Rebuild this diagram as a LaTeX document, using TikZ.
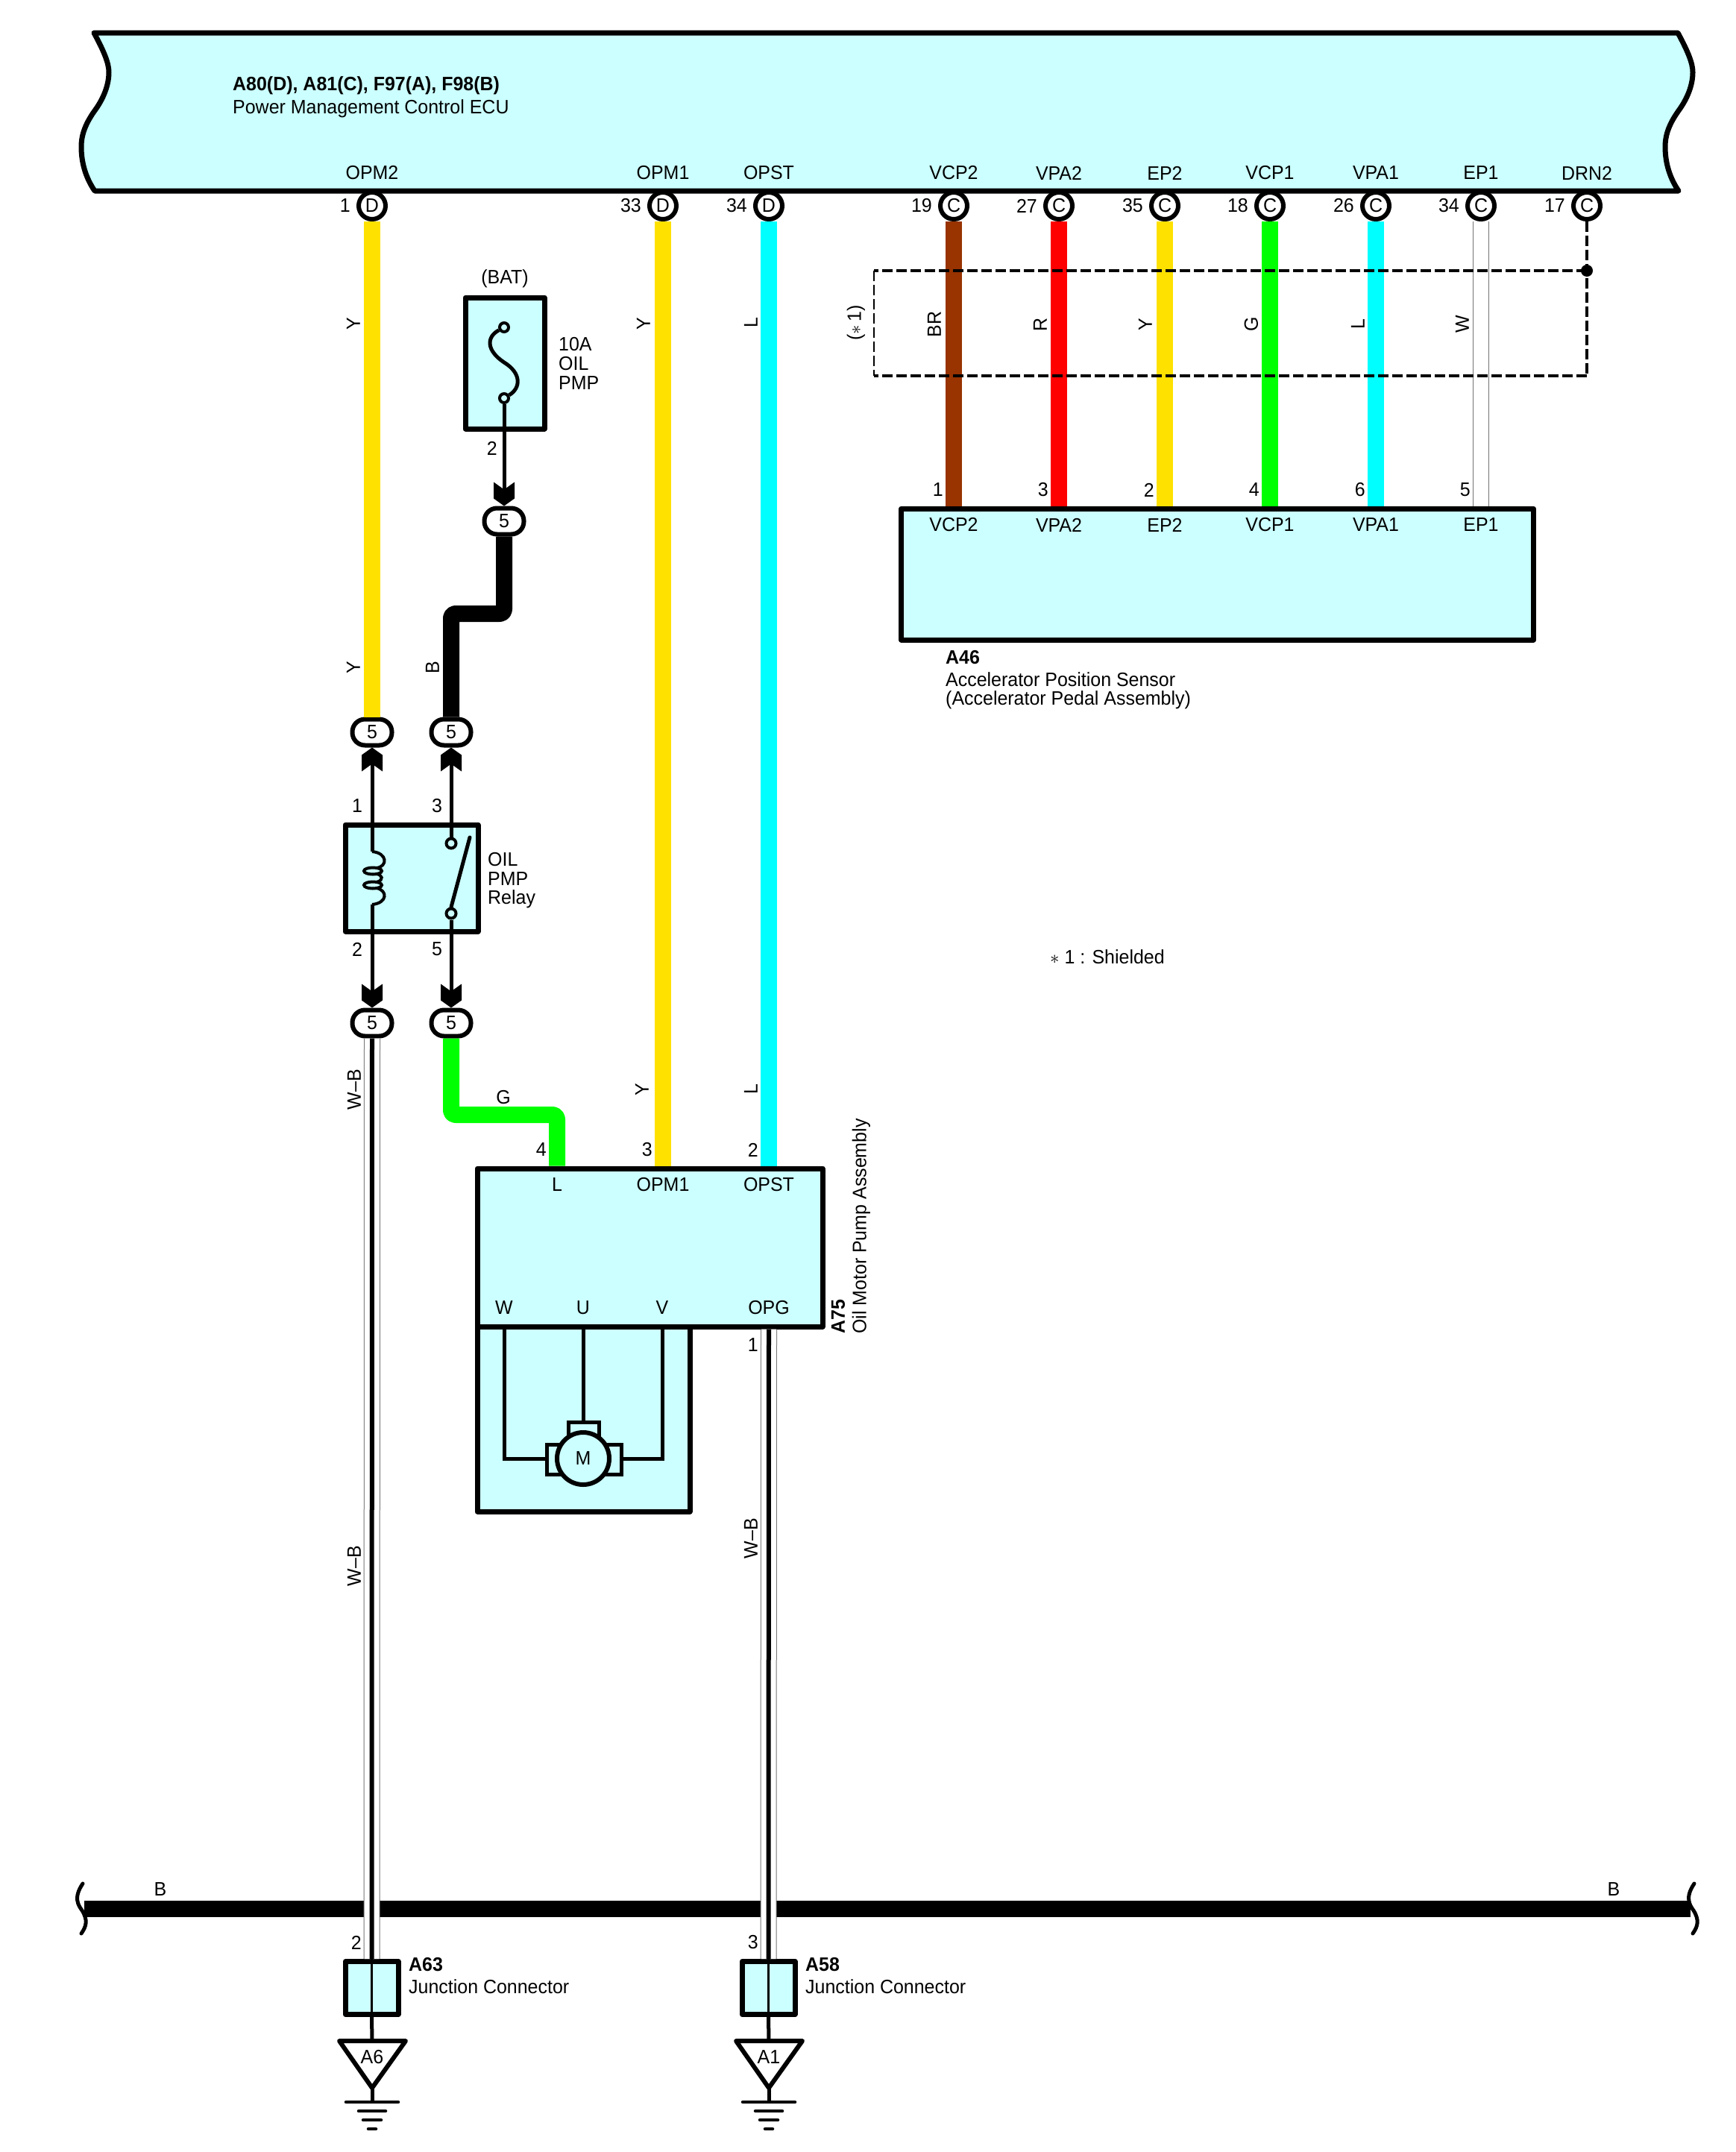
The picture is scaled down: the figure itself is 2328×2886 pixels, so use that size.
\documentclass[tikz,border=0pt]{standalone}
\usepackage{fontspec}
\setmainfont[FakeStretch=0.96]{Liberation Sans}
\usetikzlibrary{positioning}
\definecolor{bodycyan}{HTML}{CCFFFF}
\definecolor{wireY}{HTML}{FFE100}
\definecolor{wireBR}{HTML}{993300}
\definecolor{wireR}{HTML}{FF0000}
\definecolor{wireG}{HTML}{00FF00}
\definecolor{wireL}{HTML}{00FFFF}
% double chevron tip of the in-line connectors
\pgfdeclarearrow{
  name=Chev,
  setup code={
    \pgfarrowssettipend{0pt}
    \pgfarrowssetlineend{-16pt}
    \pgfarrowssetvisualbackend{-30pt}
    \pgfarrowssetbackend{-32pt}
    \pgfarrowshullpoint{0pt}{0pt}
    \pgfarrowshullpoint{-32pt}{14pt}
    \pgfarrowshullpoint{-32pt}{-14pt}
  },
  drawing code={
    \pgfpathmoveto{\pgfqpoint{0pt}{0pt}}
    \pgfpathlineto{\pgfqpoint{-10pt}{14pt}}
    \pgfpathlineto{\pgfqpoint{-32pt}{14pt}}
    \pgfpathlineto{\pgfqpoint{-22pt}{0pt}}
    \pgfpathlineto{\pgfqpoint{-32pt}{-14pt}}
    \pgfpathlineto{\pgfqpoint{-10pt}{-14pt}}
    \pgfpathclose
    \pgfusepathqfill
  }
}
\tikzset{
  font={\fontsize{26pt}{26}\selectfont},
  every node/.style={inner sep=0pt},
  body/.style={draw=black,fill=bodycyan,line width=7pt,line join=round},
  pin/.style={circle,draw=black,fill=white,line width=6pt,minimum size=36pt},
  conn/.style={rectangle,rounded corners=17pt,draw=black,fill=white,line width=6pt,minimum width=53pt,minimum height=35pt},
  wire/.style={line width=22pt,line join=round,rounded corners=6pt},
  thin wire/.style={line width=5pt,line join=round},
  wire white/.style={draw=white,line width=20pt,preaction={draw=black!55,line width=22pt}},
  wire wb/.style={draw=black,line width=6pt,preaction={draw=black!55,line width=22pt},preaction={draw=white,line width=20pt}},
  vlabel/.style={rotate=90},
  num/.style={anchor=east},
  gnd bar/.style={line width=4.5pt,line cap=round},
  shield/.style={line width=4.5pt,dash pattern=on 14pt off 5pt}
}
\begin{document}
\begin{tikzpicture}[x=1pt,y=-1pt]
    \useasboundingbox (0, 0) rectangle (2328, 2886);

    % ECU body
    \draw [body] (126, 44) -- (2250, 44) .. controls (2264, 70) and (2270, 85) .. (2270, 97)
      .. controls (2270, 115) and (2262, 133) .. (2252, 147)
      .. controls (2239, 165) and (2233, 180) .. (2233, 197)
      .. controls (2233, 220) and (2240, 240) .. (2251, 256) -- (127, 256)
      .. controls (116, 240) and (109, 220) .. (109, 197)
      .. controls (109, 180) and (115, 165) .. (128, 147)
      .. controls (138, 133) and (146, 115) .. (146, 97)
      .. controls (146, 85) and (140, 70) .. (126, 44) -- cycle;
    \node [anchor=west] (ecuTitle) at (312, 115) {\textbf{A80(D), A81(C), F97(A), F98(B)}};
    \node [anchor=west] (ecuName) at (312, 146) {Power Management Control ECU};

    % ECU terminal names
    \node (nameOPM2) at (499, 232) {OPM2};
    \node (nameOPM1) at (889, 232) {OPM1};
    \node (nameOPST) at (1031, 232) {OPST};
    \node (nameVCP2) at (1279, 232) {VCP2};
    \node (nameVPA2) at (1420, 232) {VPA2};
    \node (nameEP2) at (1562, 232) {EP2};
    \node (nameVCP1) at (1703, 232) {VCP1};
    \node (nameVPA1) at (1845, 232) {VPA1};
    \node (nameEP1) at (1986, 232) {EP1};
    \node (nameDRN2) at (2128, 232) {DRN2};

    % ECU pins
    \node [pin] (pinOPM2) at (499, 276) {D};
    \node [pin] (pinOPM1) at (889, 276) {D};
    \node [pin] (pinOPST) at (1031, 276) {D};
    \node [pin] (pinVCP2) at (1279, 276) {C};
    \node [pin] (pinVPA2) at (1420, 276) {C};
    \node [pin] (pinEP2) at (1562, 276) {C};
    \node [pin] (pinVCP1) at (1703, 276) {C};
    \node [pin] (pinVPA1) at (1845, 276) {C};
    \node [pin] (pinEP1) at (1986, 276) {C};
    \node [pin] (pinDRN2) at (2128, 276) {C};

    % ECU pin numbers
    \node [num] (numOPM2) at (470, 276) {1};
    \node [num] (numOPM1) at (860, 276) {33};
    \node [num] (numOPST) at (1002, 276) {34};
    \node [num] (numVCP2) at (1250, 276) {19};
    \node [num] (numVPA2) at (1391, 276) {27};
    \node [num] (numEP2) at (1533, 276) {35};
    \node [num] (numVCP1) at (1674, 276) {18};
    \node [num] (numVPA1) at (1816, 276) {26};
    \node [num] (numEP1) at (1957, 276) {34};
    \node [num] (numDRN2) at (2099, 276) {17};

    % Accelerator sensor
    \node [body,rectangle,minimum width=848pt,minimum height=176pt] (sensor) at (1632.5, 770) {};
    \node (senVCP2) at (1279, 704) {VCP2};
    \node (senVPA2) at (1420, 704) {VPA2};
    \node (senEP2) at (1562, 704) {EP2};
    \node (senVCP1) at (1703, 704) {VCP1};
    \node (senVPA1) at (1845, 704) {VPA1};
    \node (senEP1) at (1986, 704) {EP1};
    \node [anchor=west] (senTitle) at (1268, 882) {\textbf{A46}};
    \node [anchor=west] (senName) at (1268, 911) {Accelerator Position Sensor};
    \node [anchor=west] (senPedal) at (1268, 939) {(Accelerator Pedal Assembly)};

    % Sensor wires
    \draw [wire,wireBR] (pinVCP2.south) -- (pinVCP2.south |- sensor.north);
    \draw [wire,wireR] (pinVPA2.south) -- (pinVPA2.south |- sensor.north);
    \draw [wire,wireY] (pinEP2.south) -- (pinEP2.south |- sensor.north);
    \draw [wire,wireG] (pinVCP1.south) -- (pinVCP1.south |- sensor.north);
    \draw [wire,wireL] (pinVPA1.south) -- (pinVPA1.south |- sensor.north);
    \draw [wire white] (pinEP1.south) -- (pinEP1.south |- sensor.north);

    % Sensor wire colour codes
    \node [vlabel] (codeBR) at (1253, 435) {BR};
    \node [vlabel] (codeR) at (1395, 435) {R};
    \node [vlabel] (codeYb) at (1536, 435) {Y};
    \node [vlabel] (codeG) at (1678, 435) {G};
    \node [vlabel] (codeLb) at (1821, 435) {L};
    \node [vlabel] (codeW) at (1961, 435) {W};

    % Sensor pin numbers
    \node [num] (numSa) at (1265, 657) {1};
    \node [num] (numSb) at (1406, 657) {3};
    \node [num] (numSc) at (1548, 657) {2};
    \node [num] (numSd) at (1689, 657) {4};
    \node [num] (numSe) at (1831, 657) {6};
    \node [num] (numSf) at (1972, 657) {5};

    % Shield
    \coordinate (shieldDot) at (2128, 363);
    \coordinate (shieldEnd) at (2128, 504);
    \draw [shield] (shieldDot) -- (1172, 363);
    \draw [shield] (shieldEnd) -- (1172, 504);
    \draw [line width=2.5pt,dash pattern=on 14pt off 5pt] (1172, 363) -- (1172, 504);
    \draw [shield] (pinDRN2.south) -- (shieldEnd);
    \fill (shieldDot) circle (8);
    \node [vlabel] (codeShield) at (1148, 433) {($\ast$\,1)};
    \node [anchor=west] (noteShield) at (1408, 1283) {$\ast$ 1 : Shielded};

    % Fuse
    \node (bat) at (677, 374) {(BAT)};
    \node [body,rectangle,minimum width=106pt,minimum height=176pt] (fuse) at (677, 487) {};
    \node [circle,draw=black,fill=bodycyan,line width=4pt,minimum size=12pt] (fuseTop) at (676, 439) {};
    \node [circle,draw=black,fill=bodycyan,line width=4pt,minimum size=12pt] (fuseBot) at (676, 534) {};
    \draw [line width=5pt] (fuseTop) .. controls (652, 452) and (652, 470) .. (676, 486)
      .. controls (699, 500) and (699, 520) .. (fuseBot);
    \node [anchor=west] (fuseAmp) at (749, 462) {10A};
    \node [anchor=west] (fuseOil) at (749, 488) {OIL};
    \node [anchor=west] (fusePmp) at (749, 514) {PMP};
    \node [num] (numFuse) at (667, 601) {2};

    % In-line connectors
    \node [conn] (cFuse) at (676, 699) {5};
    \node [conn] (cYtop) at (499, 982) {5};
    \node [conn] (cBtop) at (605, 982) {5};
    \node [conn] (cWBbot) at (499, 1372) {5};
    \node [conn] (cGbot) at (605, 1372) {5};

    % Fuse wires
    \draw [thin wire,-Chev] (fuseBot.south) -- (cFuse.north);
    \draw [wire,black] (cFuse.south) -- (676, 823) -- (605, 823) -- (cBtop.north);
    \node [vlabel] (codeBl) at (580, 895) {B};

    % Relay
    \node [body,rectangle,minimum width=178pt,minimum height=143pt] (relay) at (552, 1177.5) {};
    \node [circle,draw=black,fill=bodycyan,line width=4pt,minimum size=13pt] (relayTop) at (605, 1131) {};
    \node [circle,draw=black,fill=bodycyan,line width=4pt,minimum size=13pt] (relayBot) at (605, 1225) {};
    \draw [line width=5pt,line cap=round] (relayBot.north) -- (630, 1123);
    \coordinate (coilTop) at (499, 1142);
    \coordinate (coilBot) at (499, 1213);
    \draw [line width=4pt] (coilTop) .. controls (520, 1144) and (520, 1162) .. (505, 1164)
      (505, 1172) .. controls (512, 1173) and (516, 1180) .. (505, 1183)
      (505, 1191) .. controls (520, 1194) and (520, 1211) .. (coilBot);
    \draw [line width=4pt] (500, 1168) ellipse (12 and 4.5);
    \draw [line width=4pt] (500, 1187) ellipse (12 and 4.5);
    \node [anchor=west] (relayOil) at (654, 1153) {OIL};
    \node [anchor=west] (relayPmp) at (654, 1179) {PMP};
    \node [anchor=west] (relayName) at (654, 1206) {Relay};
    \node (numRa) at (479, 1081) {1};
    \node (numRb) at (586, 1081) {3};
    \node (numRc) at (479, 1273) {2};
    \node (numRd) at (586, 1273) {5};

    % Relay wires
    \draw [thin wire,-Chev] (coilTop) -- (cYtop.south);
    \draw [thin wire,-Chev] (relayTop.north) -- (cBtop.south);
    \draw [thin wire,-Chev] (coilBot) -- (cWBbot.north);
    \draw [thin wire,-Chev] (relayBot.south) -- (cGbot.north);

    % Pump motor section
    \draw [body] (640, 1779) -- (640, 2027) -- (925, 2027) -- (925, 1779);
    \node [body,rectangle,minimum width=463pt,minimum height=212pt] (pump) at (871.5, 1673) {};
    \node (pumpL) at (747, 1589) {L};
    \node (pumpOPM1) at (889, 1589) {OPM1};
    \node (pumpOPST) at (1031, 1589) {OPST};
    \node (pumpW) at (676, 1754) {W};
    \node (pumpU) at (782, 1754) {U};
    \node (pumpV) at (888, 1754) {V};
    \node (pumpOPG) at (1031, 1754) {OPG};
    \draw [line width=5pt] (pumpU |- pump.south) -- (782, 1907);
    \draw [line width=5pt] (pumpW |- pump.south) -- (676, 1956) -- (733, 1956);
    \draw [line width=5pt] (pumpV |- pump.south) -- (888, 1956) -- (833, 1956);
    \draw [line width=5pt,fill=bodycyan] (762, 1907) rectangle (803, 1930);
    \draw [line width=5pt,fill=bodycyan] (733, 1937) rectangle (755, 1977);
    \draw [line width=5pt,fill=bodycyan] (811, 1937) rectangle (833, 1977);
    \node [circle,draw=black,fill=bodycyan,line width=6pt,minimum size=70pt] (motor) at (782, 1956) {M};
    \node [num] (numPa) at (733, 1542) {4};
    \node [num] (numPb) at (875, 1542) {3};
    \node [num] (numPc) at (1017, 1542) {2};
    \node [num] (numPd) at (1017, 1804) {1};
    \node [rotate=90,anchor=west] (pumpTitle) at (1124, 1789) {\textbf{A75}};
    \node [rotate=90,anchor=west] (pumpName) at (1155, 1789) {Oil Motor Pump Assembly};

    % Long wires
    \draw [wire,wireY] (pinOPM2.south) -- (cYtop.north);
    \draw [wire,wireY] (pinOPM1.south) -- (pinOPM1.south |- pump.north);
    \draw [wire,wireL] (pinOPST.south) -- (pinOPST.south |- pump.north);
    \draw [wire,wireG] (cGbot.south) -- (605, 1495) -- (747, 1495) -- (pumpL |- pump.north);
    \node [vlabel] (codeYa) at (474, 434) {Y};
    \node [vlabel] (codeYc) at (474, 895) {Y};
    \node [vlabel] (codeYd) at (863, 434) {Y};
    \node [vlabel] (codeYe) at (861, 1461) {Y};
    \node [vlabel] (codeLa) at (1007, 433) {L};
    \node [vlabel] (codeLc) at (1007, 1461) {L};
    \node (codeGr) at (675, 1472) {G};

    % Ground bus
    \draw [line width=22pt] (113, 2560) -- (2267, 2560);
    \draw [line width=5pt,line cap=round] (111, 2526) .. controls (98, 2545) and (105, 2555) .. (110, 2562)
      .. controls (118, 2575) and (116, 2583) .. (109, 2593);
    \draw [line width=5pt,line cap=round] (2272, 2526) .. controls (2259, 2545) and (2266, 2555) .. (2271, 2562)
      .. controls (2279, 2575) and (2277, 2583) .. (2270, 2593);
    \node (busLeft) at (215, 2534) {B};
    \node (busRight) at (2164, 2534) {B};

    % Junction connectors
    \node [body,rectangle,minimum width=71pt,minimum height=71pt] (jcA) at (498.5, 2666) {};
    \node [body,rectangle,minimum width=71pt,minimum height=71pt] (jcB) at (1030.5, 2666) {};
    \node [anchor=west] (jcAtitle) at (548, 2635) {\textbf{A63}};
    \node [anchor=west] (jcAname) at (548, 2664) {Junction Connector};
    \node [anchor=west] (jcBtitle) at (1080, 2635) {\textbf{A58}};
    \node [anchor=west] (jcBname) at (1080, 2664) {Junction Connector};
    \node [num] (numJa) at (485, 2605) {2};
    \node [num] (numJb) at (1017, 2605) {3};

    % W-B wires
    \draw [wire wb] (cWBbot.south) -- (jcA.north);
    \draw [wire wb] (pumpOPG |- pump.south) -- (jcB.north);
    \node [vlabel] (codeWBa) at (475, 1461) {W--B};
    \node [vlabel] (codeWBb) at (475, 2100) {W--B};
    \node [vlabel] (codeWBc) at (1007, 2063) {W--B};
    \draw [line width=3pt] (jcA.north) -- (jcA.south);
    \draw [line width=3pt] (jcB.north) -- (jcB.south);

    % Ground point A6
    \coordinate (gndAtop) at (499, 2737);
    \coordinate (gndAtip) at (499, 2800);
    \coordinate (gndAbar) at (499, 2819);
    \draw [line width=5pt] (jcA.south) -- (gndAtop);
    \draw [line width=6pt,line join=round,fill=white] (455, 2737) -- (544, 2737) -- (gndAtip) -- cycle;
    \node (gndA) at (499, 2759) {A6};
    \draw [line width=5pt] (gndAtip) -- (gndAbar);
    \draw [gnd bar] (464, 2819) -- (534, 2819);
    \draw [gnd bar] (481, 2831) -- (517, 2831);
    \draw [gnd bar] (487, 2843) -- (511, 2843);
    \draw [gnd bar] (494, 2855) -- (504, 2855);

    % Ground point A1
    \coordinate (gndBtop) at (1031, 2737);
    \coordinate (gndBtip) at (1031, 2800);
    \coordinate (gndBbar) at (1031, 2819);
    \draw [line width=5pt] (jcB.south) -- (gndBtop);
    \draw [line width=6pt,line join=round,fill=white] (987, 2737) -- (1076, 2737) -- (gndBtip) -- cycle;
    \node (gndB) at (1031, 2759) {A1};
    \draw [line width=5pt] (gndBtip) -- (gndBbar);
    \draw [gnd bar] (996, 2819) -- (1066, 2819);
    \draw [gnd bar] (1013, 2831) -- (1049, 2831);
    \draw [gnd bar] (1019, 2843) -- (1043, 2843);
    \draw [gnd bar] (1026, 2855) -- (1036, 2855);
\end{tikzpicture}
\end{document}
